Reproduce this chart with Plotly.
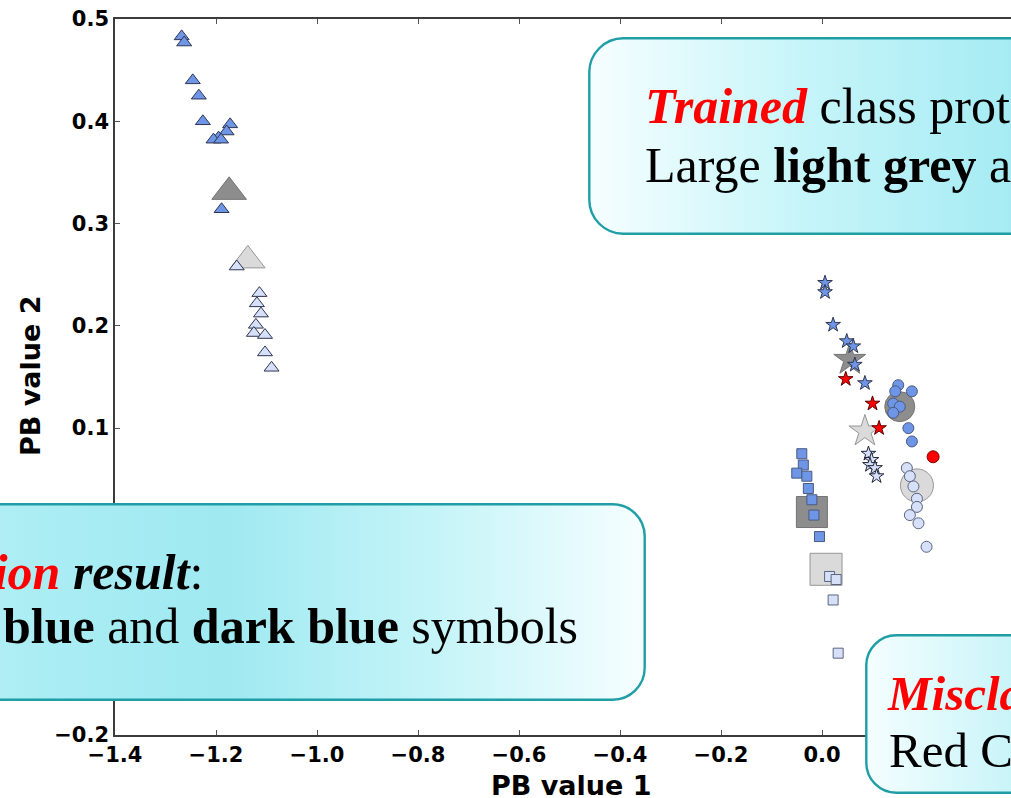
import base64
import plotly.graph_objects as go

# ---------------- data ----------------
tri_blue_x = [-1.268, -1.263, -1.246, -1.234, -1.226, -1.172, -1.179, -1.195, -1.205, -1.190, -1.189]
tri_blue_y = [0.483, 0.477, 0.440, 0.425, 0.400, 0.397, 0.390, 0.384, 0.382, 0.382, 0.314]
tri_light_x = [-1.159, -1.114, -1.119, -1.111, -1.121, -1.125, -1.103, -1.103, -1.090]
tri_light_y = [0.258, 0.232, 0.222, 0.212, 0.201, 0.193, 0.191, 0.174, 0.159]

star_blue_x = [0.006, 0.006, 0.022, 0.049, 0.062, 0.065, 0.085]
star_blue_y = [0.242, 0.233, 0.201, 0.185, 0.180, 0.162, 0.144]
star_light_x = [0.092, 0.098, 0.095, 0.105, 0.108]
star_light_y = [0.075, 0.069, 0.064, 0.061, 0.053]
star_red_x = [0.047, 0.100, 0.113]
star_red_y = [0.148, 0.124, 0.100]

circ_blue_x = [0.151, 0.145, 0.178, 0.141, 0.154, 0.141, 0.171, 0.178]
circ_blue_y = [0.142, 0.136, 0.136, 0.124, 0.121, 0.115, 0.100, 0.087]
circ_light_x = [0.168, 0.174, 0.181, 0.188, 0.188, 0.174, 0.191, 0.207]
circ_light_y = [0.061, 0.053, 0.043, 0.031, 0.023, 0.015, 0.007, -0.016]
circ_red_x = [0.220]
circ_red_y = [0.072]

sq_blue_x = [-0.040, -0.037, -0.050, -0.030, -0.027, -0.020, -0.016, -0.005]
sq_blue_y = [0.075, 0.064, 0.056, 0.053, 0.041, 0.030, 0.015, -0.006]
sq_light_x = [0.015, 0.028, 0.022, 0.032]
sq_light_y = [-0.045, -0.048, -0.068, -0.120]

proto_symbols = ["triangle-up", "star", "circle", "square"]
proto_dark_x = [-1.174, 0.055, 0.154, -0.020]
proto_dark_y = [0.331, 0.167, 0.121, 0.018]
proto_light_x = [-1.137, 0.085, 0.188, 0.008]
proto_light_y = [0.264, 0.097, 0.044, -0.038]

# only the tick labels that are not hidden behind the callout boxes
x_ticks = [-1.4, -1.2, -1.0, -0.8, -0.6, -0.4, -0.2, 0.0]
y_ticks = [-0.2, 0.1, 0.2, 0.3, 0.4, 0.5]

# ---------------- layout geometry ----------------
W, H = 1011, 798
L, T, R_EDGE, B_EDGE = 115, 19, 1011, 735
PW, PH = R_EDGE - L, B_EDGE - T


def px(xp):
    return (xp - L) / PW


def py(yp):
    return (B_EDGE - yp) / PH


BLUE = "#6e95e6"
LIGHT = "#d6e0f8"
EDGE = "#2e3550"
DARK_P = "#5e5e5e"
LIGHT_P = "#cbcbcb"

fig = go.Figure()

# prototypes (drawn first, small markers on top)
fig.add_trace(go.Scatter(x=proto_dark_x, y=proto_dark_y, mode="markers",
                         marker=dict(symbol=proto_symbols, size=[30, 24, 30, 31], color=DARK_P,
                                     line=dict(color="#3a3a3a", width=1))))
fig.add_trace(go.Scatter(x=proto_light_x, y=proto_light_y, mode="markers",
                         marker=dict(symbol=proto_symbols, size=[30, 24, 33, 32], color=LIGHT_P,
                                     line=dict(color="#6a6a6a", width=1))))


def small(xs, ys, symbol, size, color, edge=EDGE):
    fig.add_trace(go.Scatter(x=xs, y=ys, mode="markers",
                             marker=dict(symbol=symbol, size=size, color=color,
                                         line=dict(color=edge, width=1))))


small(tri_blue_x, tri_blue_y, "triangle-up", 13, BLUE)
small(tri_light_x, tri_light_y, "triangle-up", 13, LIGHT)
small(star_blue_x, star_blue_y, "star", 11, BLUE)
small(star_light_x, star_light_y, "star", 11, LIGHT, "#1f2438")
small(star_red_x, star_red_y, "star", 11, "#ff0000", "#5a0000")
small(circ_blue_x, circ_blue_y, "circle", 11, BLUE, "#4a5a80")
small(circ_light_x, circ_light_y, "circle", 11, LIGHT, "#5a6480")
small(circ_red_x, circ_red_y, "circle", 12, "#ff0000", "#7a0000")
small(sq_blue_x, sq_blue_y, "square", 10, BLUE, "#4a5a80")
small(sq_light_x, sq_light_y, "square", 10, LIGHT, "#5a6480")


# ---------------- callout boxes (gradient rounded rectangles as SVG images) ----------------
def box_image(x0, y0, x1, y1, rad, stops):
    w, h = x1 - x0, y1 - y0
    stop_xml = "".join(
        f'<stop offset="{o}" stop-color="{c}"/>' for o, c in stops)
    svg = (f'<svg xmlns="http://www.w3.org/2000/svg" width="{w}" height="{h}" '
           f'viewBox="0 0 {w} {h}" preserveAspectRatio="none">'
           f'<defs><linearGradient id="g" x1="0" y1="0" x2="1" y2="0">{stop_xml}</linearGradient></defs>'
           f'<rect x="1.3" y="1.3" width="{w-2.6}" height="{h-2.6}" rx="{rad}" ry="{rad}" '
           f'fill="url(#g)" stroke="#1f9ea6" stroke-width="2.4"/></svg>')
    src = "data:image/svg+xml;base64," + base64.b64encode(svg.encode()).decode()
    return dict(source=src, xref="paper", yref="paper", x=px(x0), y=py(y0),
                sizex=w / PW, sizey=h / PH, xanchor="left", yanchor="top",
                sizing="stretch", layer="above")


images = [
    box_image(588, 37, 1060, 235, 34,
              [(0, "#f6feff"), (0.45, "#c6f5f9"), (1, "#9fe9f2")]),
    box_image(-60, 503, 646, 701, 32,
              [(0, "#b2eff5"), (0.4, "#9fe9f1"), (0.7, "#c4f4f8"), (1, "#f6feff")]),
    box_image(865, 634, 1080, 794, 30,
              [(0, "#f4feff"), (0.7, "#c8f4f8"), (1, "#b8f0f5")]),
]

SERIF = "Liberation Serif"
RED = "#ff0000"
FS = 50


def line(text, xp, base, anchor, size=FS):
    return dict(text=text, xref="paper", yref="paper", x=px(xp), y=py(base - 0.34 * size),
                xanchor=anchor, yanchor="middle", showarrow=False, align="left",
                font=dict(family=SERIF, size=size, color="black"))


annotations = [
    line(f"<span style='color:{RED}'><b><i>Trained</i></b></span> class prototypes:", 643, 123, "left"),
    line("Large <b>light grey</b> and <b>dark grey</b> symbols", 643, 182, "left"),
    line(f"<span style='color:{RED}'><b><i>Classification</i></b></span> <b><i>result</i></b>:", 205, 589, "right"),
    line("Small <b>light blue</b> and <b>dark blue</b> symbols", 580, 643, "right"),
    line(f"<span style='color:{RED}'><b><i>Misclassification</i></b></span>:", 885, 710, "left", 49),
    line("Red Coloured symbols", 887, 767, "left", 49),
    # axis titles
    dict(text="<b>PB value 1</b>", xref="paper", yref="paper", x=px(571), y=py(785),
         xanchor="center", yanchor="middle", showarrow=False,
         font=dict(family="DejaVu Sans", size=27, color="black")),
    dict(text="<b>PB value 2</b>", xref="paper", yref="paper", x=px(30), y=py(376),
         xanchor="center", yanchor="middle", showarrow=False, textangle=-90,
         font=dict(family="DejaVu Sans", size=27, color="black")),
]

tickfont = dict(family="DejaVu Sans", size=21, color="black", weight="bold")
axis_common = dict(showgrid=False, zeroline=False, showline=True, linecolor="#3c3c3c",
                   linewidth=1.6, ticks="inside", ticklen=5, tickcolor="#555555",
                   tickwidth=1, tickfont=tickfont)

fig.update_layout(
    width=W, height=H, showlegend=False,
    margin=dict(l=L, r=W - R_EDGE, t=T, b=H - B_EDGE, pad=0),
    paper_bgcolor="white", plot_bgcolor="white",
    xaxis=dict(range=[-1.4, -1.4 + PW / 505.0], tickvals=x_ticks,
               ticktext=[f"{v:.1f}".replace("-", "\u2212") for v in x_ticks],
               mirror="ticks", **axis_common),
    yaxis=dict(range=[-0.2, 0.5], tickvals=y_ticks,
               ticktext=[f"{v:.1f}".replace("-", "\u2212") for v in y_ticks],
               mirror=False, **axis_common),
    images=images,
    annotations=annotations,
)

fig.write_html("out.html", config={"displayModeBar": False},
               post_script="document.body.style.margin='0px';document.body.style.padding='0px';")
